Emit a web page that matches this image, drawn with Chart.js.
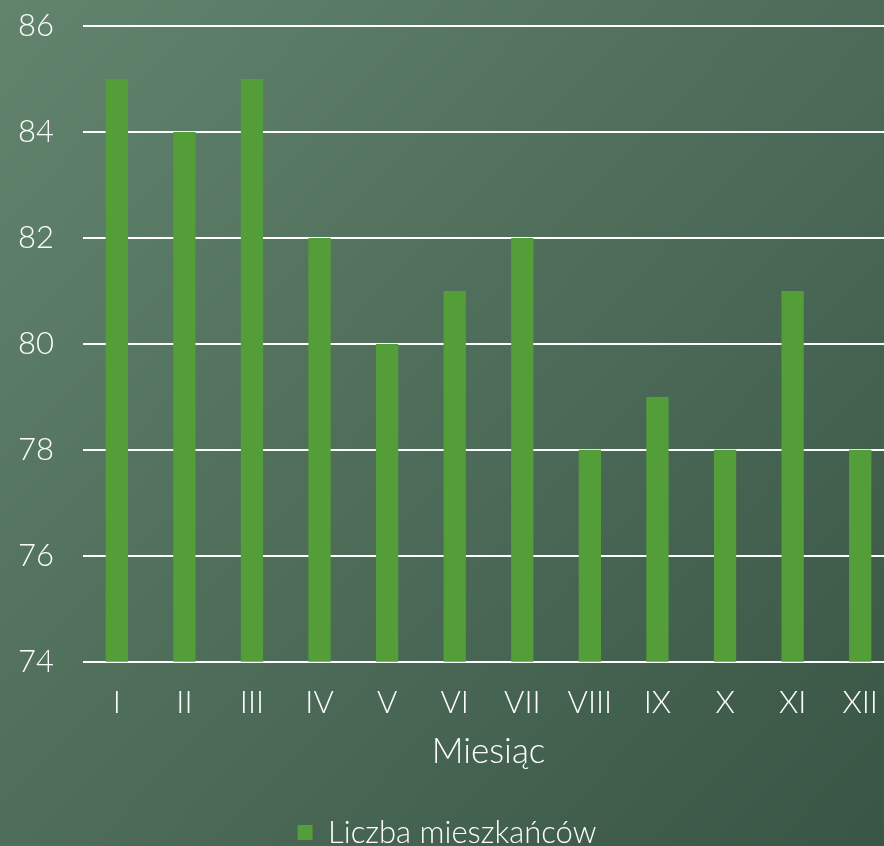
<!DOCTYPE html>
<html>
<head>
<meta charset="utf-8">
<script src="https://cdn.jsdelivr.net/npm/chart.js@4"></script>
<style>
    html, body { margin: 0; padding: 0; overflow: hidden; width: 884px; height: 846px; }
    body { background: #4c6d5a; }
    #wrap { position: absolute; left: 0; top: 0; width: 900px; height: 846px; }
</style>
</head>
<body>
<div id="wrap"><canvas id="bar-chart"></canvas></div>
<script>

const months = ['I', 'II', 'III', 'IV', 'V', 'VI', 'VII', 'VIII', 'IX', 'X', 'XI', 'XII'];
const residents = [85, 84, 85, 82, 80, 81, 82, 78, 79, 78, 81, 78];

const yMin = 74;
const yMax = 86;
const yStep = 2;

const fontName = 'Lato';

// green gradient behind the whole chart
const bgPlugin = {
    id: 'bg',
    beforeDraw(chart) {
        const ctx = chart.ctx;
        const g = ctx.createLinearGradient(0, 0, 884, 846);
        g.addColorStop(0, '#62846d');
        g.addColorStop(1, '#395545');
        ctx.save();
        ctx.fillStyle = g;
        ctx.fillRect(0, 0, chart.width, chart.height);
        ctx.restore();
    }
};

const ctx = document.getElementById('bar-chart').getContext('2d');

new Chart(ctx, {
    type: 'bar',
    data: {
        labels: months,
        datasets: [{
            label: 'Liczba mieszkańców',
            data: residents,
            backgroundColor: '#549e39',
            barPercentage: 0.33,
            categoryPercentage: 1
        }]
    },
    options: {
        responsive: true,
        maintainAspectRatio: false,
        animation: false,
        layout: {
            padding: { left: 0, right: 6, top: 26, bottom: -12 }
        },
        scales: {
            y: {
                min: yMin,
                max: yMax,
                afterFit: (scale) => {
                    scale.width = 83;
                    scale.paddingTop = 0;
                    scale.paddingBottom = 0;
                },
                ticks: {
                    stepSize: yStep,
                    color: '#ffffff',
                    padding: 29,
                    font: { family: fontName, size: 31, weight: 300 }
                },
                grid: {
                    color: '#ffffff',
                    lineWidth: 2,
                    drawTicks: false
                },
                border: { display: false }
            },
            x: {
                ticks: {
                    color: '#ffffff',
                    padding: 15,
                    font: { family: fontName, size: 31, weight: 300 }
                },
                grid: { display: false },
                border: { display: false },
                title: {
                    display: true,
                    text: 'Miesiąc',
                    color: '#ffffff',
                    padding: { top: -6, bottom: 22 },
                    font: { family: fontName, size: 35, weight: 300 }
                }
            }
        },
        plugins: {
            legend: {
                position: 'bottom',
                labels: {
                    color: '#ffffff',
                    boxWidth: 15,
                    boxHeight: 15,
                    padding: 22,
                    font: { family: fontName, size: 31, weight: 300 }
                }
            },
            tooltip: { enabled: false }
        }
    },
    plugins: [bgPlugin]
});

</script>
</body>
</html>
